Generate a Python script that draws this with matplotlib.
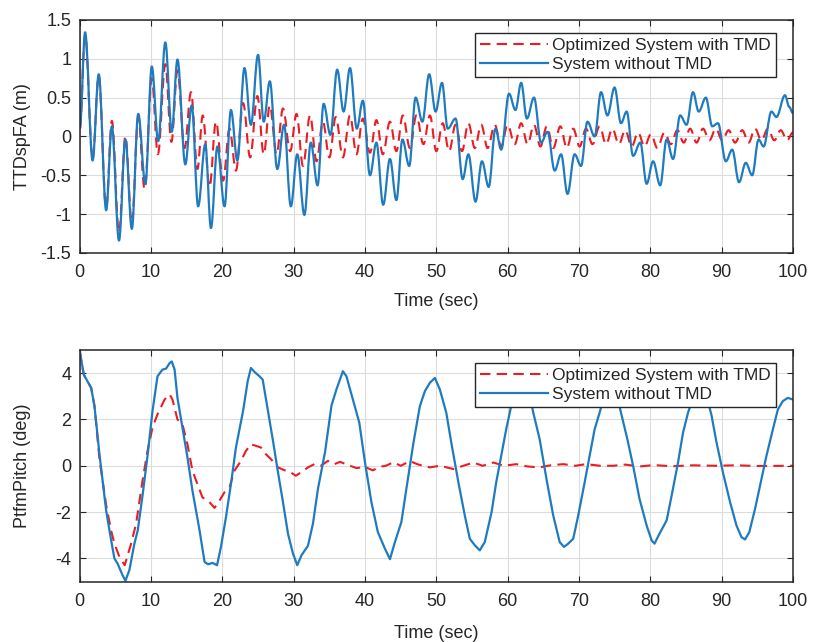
import matplotlib
matplotlib.use("Agg")
import matplotlib.pyplot as plt
from matplotlib.path import Path
from matplotlib.patches import PathPatch
from matplotlib.lines import Line2D

plt.rcParams['font.family'] = ['Liberation Sans', 'DejaVu Sans']
plt.rcParams['axes.unicode_minus'] = False

# ---------------- Top panel: TTDspFA (m)  (successive peaks / troughs) ----------------
top_blue_t = [0, 0.75, 1.8, 2.66, 3.7, 4.5, 5.5, 6.4, 7.3, 8.2, 9.2, 10.1, 11.0, 12.0, 12.9,
              13.7, 14.8, 15.7, 16.6, 17.6, 18.4, 19.3, 20.3, 21.2, 22.1, 23.1, 24.0, 25.0,
              25.8, 26.65, 27.7, 28.65, 29.6, 30.5, 31.5, 32.4, 33.35, 34.2, 35.15, 36.1, 37.0,
              37.9, 38.85, 39.7, 40.7, 41.6, 42.55, 43.5, 44.4, 45.25, 46.2, 47.1, 48.05, 49.0,
              49.9, 50.8, 51.6, 52.7, 53.7, 54.5, 55.5, 56.4, 57.35, 58.3, 59.1, 60.2, 61.1,
              61.9, 62.7, 63.7, 64.7, 65.6, 66.6, 67.5, 68.4, 69.4, 70.3, 71.2, 72.2, 73.1,
              74.0, 75.0, 75.9, 76.7, 77.6, 78.6, 79.5, 80.4, 81.4, 82.3, 83.2, 84.2, 85.1,
              86.0, 86.8, 87.8, 88.7, 89.5, 90.6, 91.5, 92.45, 93.4, 94.3, 95.2, 95.9, 97.0,
              97.7, 98.9, 99.5, 100]
top_blue_y = [0.10, 1.34, -0.31, 0.80, -0.95, 0.13, -1.34, -0.04, -1.19, 0.29, -0.61, 0.90, -0.06,
              1.21, 0.06, 0.99, -0.36, 0.40, -0.90, -0.10, -1.18, -0.13, -0.90, 0.34, -0.31, 0.88,
              0.15, 1.05, 0.19, 0.71, -0.42, 0.15, -0.90, -0.23, -1.01, -0.08, -0.63, 0.42, 0.02,
              0.86, 0.32, 0.88, 0.10, 0.46, -0.50, -0.08, -0.88, -0.29, -0.82, -0.04, -0.38, 0.50,
              0.19, 0.80, 0.32, 0.69, 0.10, 0.23, -0.55, -0.23, -0.84, -0.32, -0.65, 0.10, -0.17,
              0.55, 0.34, 0.69, 0.23, 0.50, -0.08, 0.06, -0.44, -0.23, -0.74, -0.23, -0.38, 0.19,
              0.00, 0.57, 0.27, 0.63, 0.17, 0.32, -0.25, -0.08, -0.61, -0.32, -0.63, -0.04, -0.29,
              0.27, 0.15, 0.57, 0.32, 0.50, 0.13, 0.17, -0.32, -0.17, -0.59, -0.34, -0.50, -0.04,
              -0.13, 0.32, 0.25, 0.53, 0.38, 0.30]

top_red_t = [0, 0.75, 1.8, 2.66, 3.7, 4.5, 5.5, 6.4, 7.3, 8.2, 9.1, 10.1, 10.95, 12.0, 12.85,
             13.7, 14.7, 15.6, 16.5, 17.25, 18.2, 19.1, 20.1, 21.0, 21.9, 22.9, 23.9, 24.9,
             25.8, 26.65, 27.6, 28.5, 29.5, 30.4, 31.3, 32.3, 33.2, 34.1, 35.0, 35.9, 36.9,
             37.9, 38.8, 39.7, 40.7, 41.6, 42.5, 43.5, 44.4, 45.3, 46.3, 47.2, 48.2, 49.1,
             50.0, 50.9, 51.8, 52.7, 53.6, 54.5, 55.4, 56.3, 57.2, 58.2, 59.1, 60.0, 61.0,
             61.9, 62.8, 63.7, 64.6, 65.5, 66.4, 67.4, 68.3, 69.2, 70.1, 71.0, 71.9, 72.9,
             73.8, 74.7, 75.6, 76.5, 77.4, 78.3, 79.2, 80.1, 81.0, 82.0, 82.9, 83.8, 84.7,
             85.6, 86.5, 87.4, 88.3, 89.2, 90.1, 91.0, 91.9, 92.9, 93.8, 94.7, 95.6, 96.5,
             97.4, 98.3, 99.2, 100]
top_red_y = [0.10, 1.30, -0.28, 0.78, -0.92, 0.20, -1.24, 0.00, -1.12, 0.25, -0.68, 0.75, -0.23,
             0.93, -0.07, 0.85, -0.15, 0.57, -0.42, 0.27, -0.65, 0.19, -0.57, 0.10, -0.44, 0.43,
             -0.27, 0.52, -0.23, 0.40, -0.23, 0.36, -0.19, 0.29, -0.38, 0.27, -0.32, 0.19, -0.27,
             0.25, -0.27, 0.27, -0.23, 0.23, -0.21, 0.21, -0.23, 0.19, -0.19, 0.27, -0.15, 0.27,
             -0.10, 0.27, -0.19, 0.17, -0.19, 0.15, -0.19, 0.17, -0.15, 0.15, -0.15, 0.15, -0.13,
             0.15, -0.10, 0.17, -0.10, 0.15, -0.13, 0.13, -0.15, 0.13, -0.15, 0.10, -0.13, 0.10,
             -0.10, 0.13, -0.10, 0.10, -0.10, 0.08, -0.13, 0.05, -0.13, 0.03, -0.15, 0.05, -0.10,
             0.08, -0.08, 0.10, -0.08, 0.10, -0.05, 0.10, -0.05, 0.08, -0.08, 0.08, -0.08, 0.10,
             -0.05, 0.10, -0.05, 0.08, -0.05, 0.05]

# ---------------- Bottom panel: PtfmPitch (deg) ----------------
bot_blue_t = [0, 0.56, 1.6, 2.06, 2.76, 3.7, 4.4, 4.86, 5.3, 6.0, 6.4, 6.96, 7.66, 8.13, 8.83,
              9.53, 10.2, 10.9, 11.6, 12.1, 12.6, 12.9, 13.3, 13.7, 14.4, 15.1, 15.8, 16.8,
              17.5, 18.0, 18.6, 19.25, 19.8, 20.5, 21.2, 21.9, 22.4, 22.9, 23.55, 24.0, 24.5,
              25.2, 25.65, 26.4, 27.1, 27.76, 28.46, 29.2, 29.9, 30.5, 31.1, 32.0, 32.7, 33.4,
              34.4, 35.3, 36.0, 36.9, 37.4, 38.3, 39.2, 40.0, 40.9, 41.8, 42.8, 43.5, 44.2,
              45.1, 45.8, 46.8, 47.7, 48.4, 49.1, 49.8, 50.5, 51.4, 52.1, 53.1, 54.0, 54.7,
              55.4, 56.1, 56.8, 57.75, 58.4, 59.1, 59.8, 60.5, 61.5, 62.4, 63.0, 63.6, 64.5,
              65.45, 66.4, 67.3, 67.9, 68.5, 69.2, 69.9, 70.8, 71.5, 72.2, 72.9, 73.8, 74.6,
              75.3, 75.9, 76.8, 77.6, 78.5, 79.5, 80.2, 80.6, 81.3, 82.3, 83.0, 83.9, 84.6,
              85.3, 86.2, 87.2, 88.0, 88.6, 89.3, 90.2, 91.2, 92.1, 92.8, 93.3, 93.9, 94.7,
              95.6, 96.3, 97.2, 97.9, 98.6, 99.3, 100]
bot_blue_y = [4.94, 3.93, 3.36, 2.58, 0.50, -1.93, -3.22, -4.00, -4.22, -4.72, -4.96, -4.50,
              -3.36, -2.79, -1.22, 0.50, 2.36, 3.86, 4.15, 4.19, 4.43, 4.50, 4.15, 2.93, 1.65,
              0.36, -1.07, -2.79, -4.15, -4.25, -4.19, -4.29, -3.50, -2.22, -0.79, 0.79, 1.57,
              2.36, 3.65, 4.22, 4.05, 3.86, 3.72, 2.36, 1.07, -0.21, -1.50, -2.93, -3.79, -4.29,
              -3.86, -3.45, -2.50, -1.00, 0.60, 2.60, 3.30, 4.08, 3.86, 2.86, 1.86, 0.14, -1.57,
              -2.86, -3.58, -4.03, -3.29, -2.43, -1.00, 1.00, 2.58, 3.22, 3.58, 3.79, 3.29, 2.29,
              1.00, -0.72, -2.15, -3.15, -3.43, -3.65, -3.29, -2.00, -0.72, 0.43, 1.57, 2.58,
              3.60, 3.80, 3.20, 2.29, 1.14, -0.57, -2.15, -3.29, -3.50, -3.36, -3.15, -2.15,
              -0.72, 0.43, 1.57, 2.29, 3.30, 3.60, 3.10, 2.29, 1.14, 0.00, -1.43, -2.58, -3.22,
              -3.36, -2.93, -2.36, -1.29, 0.14, 1.43, 2.29, 3.10, 3.30, 2.90, 2.17, 1.00, -0.29,
              -1.57, -2.58, -3.08, -3.18, -2.86, -1.86, -0.57, 0.43, 1.57, 2.43, 2.79, 2.93, 2.86]

bot_red_t = [0, 0.56, 1.6, 2.06, 2.76, 3.7, 4.4, 4.86, 5.56, 6.3, 7.2, 7.9, 8.8, 9.5, 10.2,
             10.9, 11.9, 12.6, 13.0, 13.7, 14.4, 15.1, 15.8, 16.5, 17.2, 18.2, 18.9, 19.6,
             20.3, 21.0, 21.7, 22.6, 23.3, 24.0, 24.7, 25.4, 26.1, 26.8, 27.8, 28.7, 29.6,
             30.3, 31.0, 32.0, 32.9, 33.8, 34.8, 35.7, 36.5, 37.9, 38.8, 40.0, 41.1, 42.0,
             42.9, 44.0, 45.0, 46.3, 47.5, 49.1, 50.5, 52.4, 53.8, 55.2, 56.5, 58.0, 59.5,
             61.2, 62.8, 64.5, 66.0, 67.8, 69.5, 71.0, 73.0, 74.8, 76.5, 78.5, 80.5, 83.0,
             86.0, 89.0, 92.0, 95.0, 100]
bot_red_y = [4.94, 3.93, 3.36, 2.58, 0.30, -1.70, -2.80, -3.36, -3.93, -4.29, -3.36, -2.50,
             -0.64, 0.64, 1.65, 2.22, 2.86, 3.08, 2.86, 2.00, 1.79, 0.93, -0.21, -0.79, -1.36,
             -1.57, -1.82, -1.50, -1.14, -0.93, -0.21, 0.21, 0.64, 0.93, 0.86, 0.79, 0.50,
             0.29, -0.07, -0.19, -0.29, -0.43, -0.29, -0.07, 0.07, 0.00, 0.21, 0.07, 0.17,
             0.00, -0.10, -0.05, -0.20, -0.05, 0.00, 0.15, 0.00, 0.20, 0.05, -0.07, 0.00,
             -0.14, 0.00, 0.14, 0.00, 0.14, 0.00, 0.07, -0.03, -0.07, 0.02, 0.07, 0.00, 0.07,
             0.00, 0.00, 0.05, -0.03, 0.03, -0.02, 0.02, 0.00, 0.02, -0.01, 0.00]

x_ticks = [0, 10, 20, 30, 40, 50, 60, 70, 80, 90, 100]
top_yticks = [-1.5, -1, -0.5, 0, 0.5, 1, 1.5]
top_yticklabels = ['-1.5', '-1', '-0.5', '0', '0.5', '1', '1.5']
bot_yticks = [-4, -2, 0, 2, 4]
bot_yticklabels = ['-4', '-2', '0', '2', '4']
label_red = 'Optimized System with TMD'
label_blue = 'System without TMD'

BLUE = '#1f7bbf'
RED = '#ec1c24'
AX = '#262626'
RED_DASH = (0, (5, 3))


def extrema_curve(ax, t, y, color, lw, ls='-'):
    """Draw a smooth curve through successive extrema (horizontal tangents)."""
    k = 0.364
    verts = [(t[0], y[0])]
    codes = [Path.MOVETO]
    for i in range(1, len(t)):
        d = t[i] - t[i - 1]
        verts += [(t[i - 1] + k * d, y[i - 1]), (t[i] - k * d, y[i]), (t[i], y[i])]
        codes += [Path.CURVE4] * 3
    patch = PathPatch(Path(verts, codes), facecolor='none', edgecolor=color,
                      lw=lw, linestyle=ls, capstyle='butt', joinstyle='round')
    ax.add_patch(patch)


fig = plt.figure(figsize=(8.14, 6.42), dpi=100)
ax1 = fig.add_axes([0.098, 0.606, 0.876, 0.363])
ax2 = fig.add_axes([0.098, 0.094, 0.876, 0.361])


def style(ax, yticks, yticklabels, ylim, ylabel, xlab_y):
    ax.set_xlim(0, 100)
    ax.set_ylim(*ylim)
    ax.set_xticks(x_ticks)
    ax.set_yticks(yticks)
    ax.set_yticklabels(yticklabels)
    ax.grid(True, color='#dcdcdc', linewidth=0.8)
    ax.set_axisbelow(True)
    ax.tick_params(direction='in', top=True, right=True, length=4, width=0.8,
                   colors=AX, labelsize=13, labelcolor='#262626')
    ax.tick_params(axis='x', pad=8)
    ax.tick_params(axis='y', pad=6)
    for s in ax.spines.values():
        s.set_color(AX)
        s.set_linewidth(1.1)
    ax.set_xlabel('Time (sec)', fontsize=13, color='#262626')
    ax.set_ylabel(ylabel, fontsize=13, color='#262626')
    ax.xaxis.set_label_coords(0.5, xlab_y)
    ax.yaxis.set_label_coords(-0.069, 0.5)


extrema_curve(ax1, top_red_t, top_red_y, RED, 1.5, RED_DASH)
extrema_curve(ax1, top_blue_t, top_blue_y, BLUE, 1.6)
style(ax1, top_yticks, top_yticklabels, (-1.5, 1.5), 'TTDspFA (m)', -0.17)

ax2.plot(bot_red_t, bot_red_y, color=RED, lw=1.5, linestyle=RED_DASH)
ax2.plot(bot_blue_t, bot_blue_y, color=BLUE, lw=1.6)
style(ax2, bot_yticks, bot_yticklabels, (-5, 5), 'PtfmPitch (deg)', -0.185)

handles = [Line2D([], [], color=RED, lw=1.5, linestyle=RED_DASH),
           Line2D([], [], color=BLUE, lw=1.6)]

for ax, top in ((ax1, 0.944), (ax2, 0.943)):
    leg = ax.legend(handles, [label_red, label_blue], loc='upper right',
                    bbox_to_anchor=(0.977, top), borderaxespad=0,
                    fontsize=12.5, handlelength=3.9, handletextpad=0.25, labelspacing=0.2,
                    borderpad=0.3, fancybox=False, framealpha=1, edgecolor=AX)
    leg.get_frame().set_linewidth(1.0)
    for t in leg.get_texts():
        t.set_color('#262626')

fig.savefig('out.png', dpi=100)
